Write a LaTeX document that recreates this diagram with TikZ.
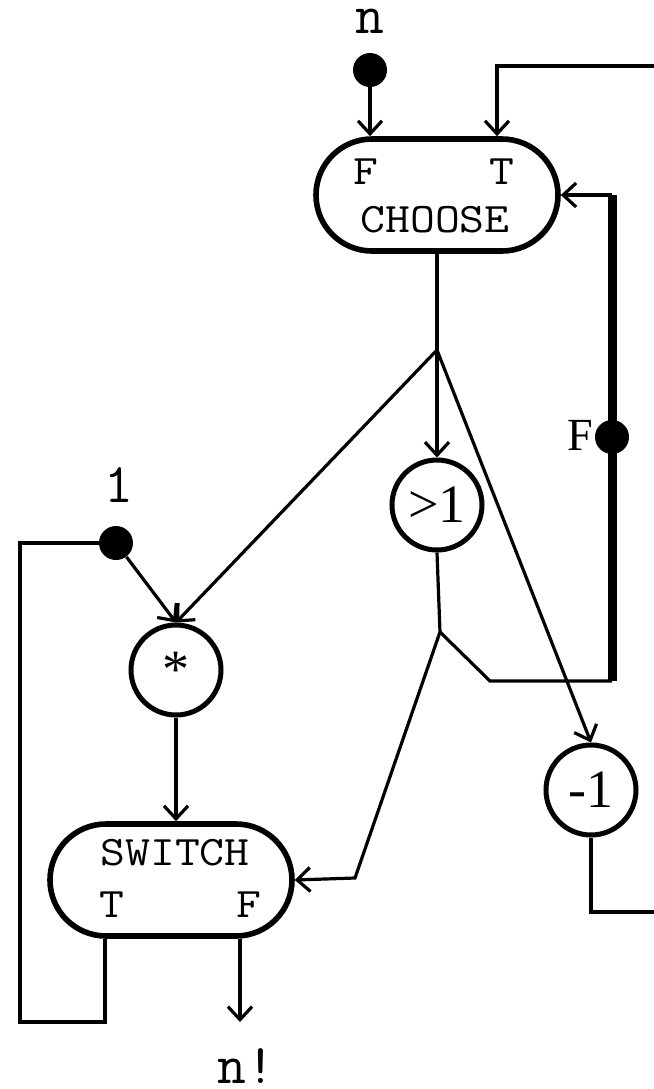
\documentclass[tikz,border=0pt]{standalone}
\usepackage{fontspec}
\setmainfont{Liberation Serif}
\usetikzlibrary{arrows.meta,shapes.misc,calc}

\begin{document}
\begin{tikzpicture}[x=0.5pt,y=-0.5pt]
\tikzset{vertex/.style = {shape=circle,draw,line width=2.5pt,minimum size=45pt,inner sep=0pt,font=\fontsize{27}{30}\selectfont}}
\tikzset{stadium/.style = {shape=rounded rectangle,draw,line width=2.8pt,minimum width=121pt,minimum height=56pt,inner sep=0pt}}
\tikzset{dot/.style = {shape=circle,fill,minimum size=17pt,inner sep=0pt}}
\tikzset{edge/.style = {-{Straight Barb[length=6.5pt,width=12pt]},line width=1.6pt}}
\tikzset{wire/.style = {line width=1.6pt}}
\tikzset{bar/.style = {line width=4.5pt}}
\tikzset{big/.style = {font=\ttfamily\fontsize{28}{30}\selectfont,inner sep=0pt}}
\tikzset{mid/.style = {font=\ttfamily\fontsize{21}{24}\selectfont,xscale=1.15}}
\useasboundingbox (0,0) rectangle (654,1089);
%\draw (0,0) rectangle (654,1089);
\node[stadium] (choose) at (437,195) {};
\node[mid] (cf) at (366,172) {F};
\node[mid] (ct) at (502,172) {T};
\node[mid] (cl) at (435,220) {CHOOSE};
\node[stadium] (switch) at (171,880) {};
\node[mid] (sl) at (175,853) {SWITCH};
\node[mid] (st) at (112,905) {T};
\node[mid] (sf) at (249,905) {F};
\node[vertex] (gt) at (437,505) {>1};
\node[vertex] (mul) at (176,670) {*};
\node[vertex] (dec) at (591,790) {-1};
\node[big,anchor=base] (n) at (370,33) {n};
\node[dot] (dn) at (370,70) {};
\node[big,anchor=base] (one) at (119,502) {1};
\node[dot] (d1) at (116,543) {};
\node[big,anchor=base] (fact) at (246,1083) {n!};
\coordinate (tin) at (654,66);
\coordinate (tend) at ($(choose.north)+(60,0)$);
\coordinate (bt) at (612,195);
\coordinate (bb) at (612,681);
\coordinate (j1) at (437,350);
\coordinate (j2) at (440,632);
\coordinate (k1) at (490,681);
\coordinate (k2) at (355,878);
\coordinate (lo) at (20,1022);
\coordinate (swt) at ($(switch.south)+(-66,0)$);
\coordinate (swf) at ($(switch.south)+(69,0)$);
\coordinate (out) at (240,1022);
\coordinate (dout) at (654,912);
\draw[bar] (bt) -- (bb);
\node[dot] (df) at (612,437) {};
\node[font=\fontsize{23}{26}\selectfont] (fl) at (580,435) {F};
\draw[edge] (dn) -- (dn |- choose.north);
\draw[edge] (tin) -| (tend);
\draw[edge] (bt) -- (choose.east);
\draw[wire] (choose.south) -- (j1);
\draw[edge] (j1) -- (gt.north);
\draw[edge] (j1) -- (mul.north);
\draw[edge] (j1) -- (dec.north);
\draw[wire] (gt.south) -- (j2);
\draw[wire] (j2) -- (k1) -- (bb);
\draw[edge] (j2) -- (k2) -- (switch.east);
\draw[edge] (d1) -- (mul.north);
\draw[wire] (d1) -| (lo) -| (swt);
\draw[edge] (mul) -- (mul |- switch.north);
\draw[edge] (swf) -- (out);
\draw[wire] (dec) |- (dout);
\end{tikzpicture}
\end{document}
